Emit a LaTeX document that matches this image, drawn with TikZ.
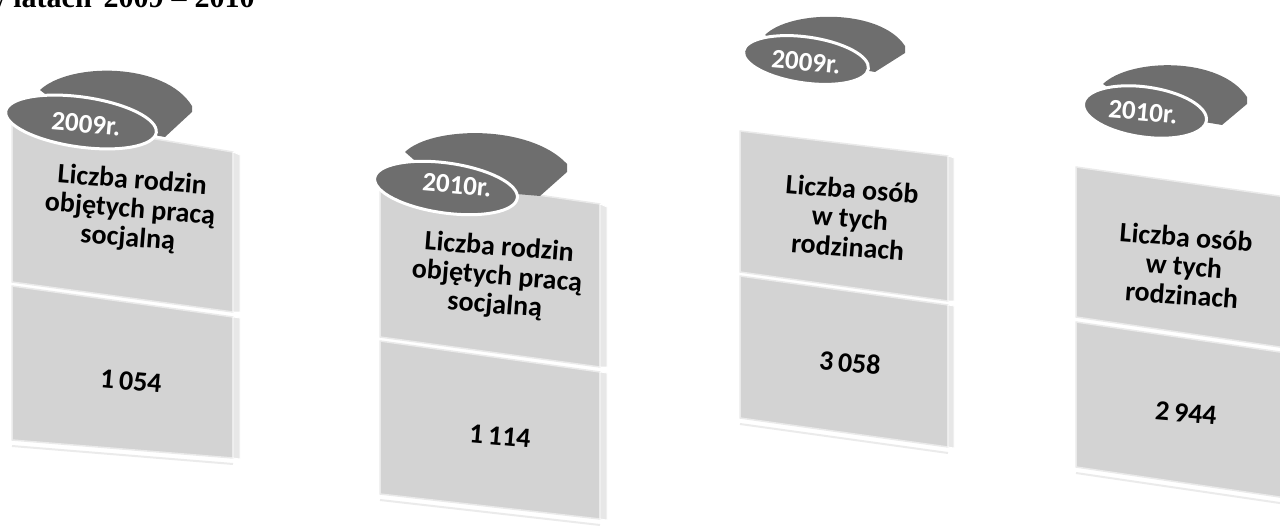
\documentclass[tikz,border=0pt]{standalone}
\usepackage{fontspec}
\setmainfont{Carlito}
\newfontfamily\titlefont{Liberation Serif}
\usepackage{tikz}

\definecolor{panelgray}{RGB}{211,211,211}
\definecolor{capgray}{RGB}{110,110,110}
\definecolor{edgegray}{RGB}{234,234,234}

\tikzset{
	panelbox/.style={fill=panelgray, draw=edgegray, line width=1.5pt, line join=round},
	sidestrip/.style={fill=panelgray!55!white, draw=white, line width=0.8pt},
	capback/.style={fill=capgray},
	capfront/.style={fill=capgray, draw=white, line width=3pt},
	shine/.style={draw=black!8, line width=2pt},
	yeartext/.style={text=white, inner sep=0pt, rotate=-5, font=\fontsize{27}{27}\selectfont\bfseries},
	labeltext/.style={align=center, inner sep=0pt, rotate=-4.5, font=\fontsize{28}{29}\selectfont\bfseries},
	valuetext/.style={inner sep=0pt, rotate=-5, font=\fontsize{28}{28}\selectfont\bfseries},
}

\begin{document}
\begin{tikzpicture}[x=1pt, y=-1pt]
				\useasboundingbox (0,0) rectangle (1280,526);
				
				% title (cut at the top)
				\node[anchor=base west, inner sep=0pt, font=\titlefont\fontsize{30}{30}\selectfont\bfseries] (title) at (-16,8) {w latach\hspace{12pt}2009\hspace{8pt}–\hspace{8pt}2010};
				
				% first panel
				\path[panelbox] (12,115) -- (233,152) -- (233,312) -- (12,282) -- cycle;
				\path[panelbox] (12,286) -- (233,317) -- (233,458) -- (12,440) -- cycle;
				\path[sidestrip] (233,152) -- (240,155) -- (240,312) -- (233,312) -- cycle;
				\path[sidestrip] (233,317) -- (240,318) -- (240,459) -- (233,458) -- cycle;
				\path[shine] (12,446) -- (233,464);
				\path[capback] (40,90) .. controls (70,62) and (165,62) .. (192,106) -- (192,112) -- (165,137) -- (81,122) -- cycle;
				\path[capfront, rotate around={-8:(81,122)}] (81,122) ellipse [x radius=76, y radius=25];
				\node[yeartext] (year1) at (86,124) {2009r.};
				\node[labeltext] (label1) at (130,210) {Liczba rodzin\\objętych pracą\\socjalną};
				\node[valuetext] (value1) at (131,381) {1\,054};
				
				% second panel
				\path[panelbox] (380,172) -- (600,204) -- (600,367) -- (380,337) -- cycle;
				\path[panelbox] (380,341) -- (600,372) -- (600,519) -- (380,494) -- cycle;
				\path[sidestrip] (600,204) -- (607,207) -- (607,367) -- (600,367) -- cycle;
				\path[sidestrip] (600,372) -- (607,373) -- (607,520) -- (600,519) -- cycle;
				\path[shine] (380,500) -- (600,525);
				\path[capback] (405,152) .. controls (432,126) and (530,124) .. (567,164) -- (567,172) -- (540,196) -- (446,188) -- cycle;
				\path[capfront, rotate around={-8:(446,188)}] (446,188) ellipse [x radius=72, y radius=25];
				\node[yeartext] (year2) at (457,185) {2010r.};
				\node[labeltext] (label2) at (497,277) {Liczba rodzin\\objętych pracą\\socjalną};
				\node[valuetext] (value2) at (500,436) {1\,114};
				
				% third panel
				\path[panelbox] (740,131) -- (948,156) -- (948,301) -- (740,272) -- cycle;
				\path[panelbox] (740,276) -- (948,305) -- (948,447) -- (740,418) -- cycle;
				\path[sidestrip] (948,156) -- (954,158) -- (954,301) -- (948,301) -- cycle;
				\path[sidestrip] (948,305) -- (954,306) -- (954,448) -- (948,447) -- cycle;
				\path[shine] (740,424) -- (948,453);
				\path[capback] (765,35) .. controls (790,10) and (880,8) .. (905,46) -- (905,53) -- (875,72) -- (806,60) -- cycle;
				\path[capfront, rotate around={-8:(806,60)}] (806,60) ellipse [x radius=63, y radius=23];
				\node[yeartext] (year3) at (806,62) {2009r.};
				\node[labeltext] (label3) at (850,218) {Liczba osób\\w tych\\rodzinach};
				\node[valuetext] (value3) at (850,363) {3\,058};
				
				% fourth panel
				\path[panelbox] (1076,167) -- (1300,199) -- (1300,350) -- (1076,317) -- cycle;
				\path[panelbox] (1076,322) -- (1300,355) -- (1300,500) -- (1076,467) -- cycle;
				\path[shine] (1076,473) -- (1300,506);
				\path[capback] (1103,84) .. controls (1130,58) and (1220,56) .. (1247,97) -- (1247,104) -- (1222,125) -- (1145,112) -- cycle;
				\path[capfront, rotate around={-8:(1145,112)}] (1145,112) ellipse [x radius=62, y radius=25];
				\node[yeartext] (year4) at (1143,112) {2010r.};
				\node[labeltext] (label4) at (1184,266) {Liczba osób\\w tych\\rodzinach};
				\node[valuetext] (value4) at (1186,413) {2\,944};
			\end{tikzpicture}
\end{document}
